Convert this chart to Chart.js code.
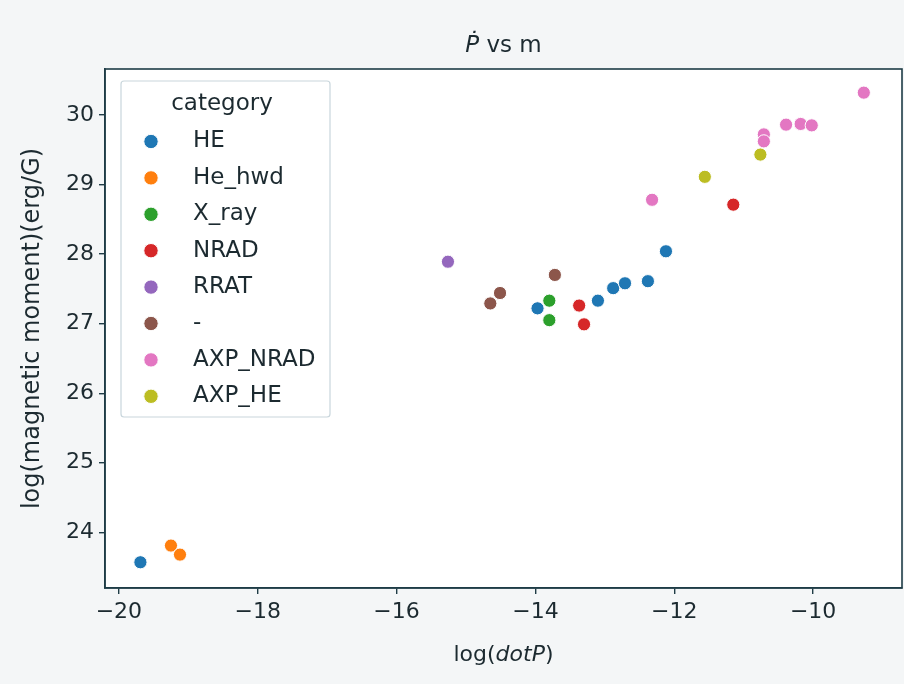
<!DOCTYPE html>
<html>
<head>
<meta charset="utf-8">
<script src="https://cdn.jsdelivr.net/npm/chart.js@4.4.1/dist/chart.umd.min.js"></script>
<style>
  html, body { margin: 0; padding: 0; background: #f4f6f7; overflow: hidden; }
  canvas { display: block; }
</style>
</head>
<body>
<canvas id="chart" width="904" height="684"></canvas>
<script>
/* ---------- data ---------- */
const categories = ["HE", "He_hwd", "X_ray", "NRAD", "RRAT", "-", "AXP_NRAD", "AXP_HE"];

const heX = [-19.69, -13.97, -13.10, -12.88, -12.71, -12.38, -12.12];
const heY = [23.57, 27.22, 27.33, 27.51, 27.58, 27.61, 28.04];

const hwdX = [-19.25, -19.12];
const hwdY = [23.81, 23.68];

const xrayX = [-13.80, -13.80];
const xrayY = [27.33, 27.05];

const nradX = [-13.37, -13.30, -11.15];
const nradY = [27.26, 26.99, 28.71];

const rratX = [-15.26];
const rratY = [27.89];

const dashX = [-14.65, -14.51, -13.72];
const dashY = [27.29, 27.44, 27.70];

const axpNradX = [-12.32, -10.71, -10.71, -10.39, -10.18, -10.02, -9.27];
const axpNradY = [28.78, 29.72, 29.62, 29.86, 29.87, 29.85, 30.32];

const axpHeX = [-11.56, -10.76];
const axpHeY = [29.11, 29.43];

const xTicks = [-20, -18, -16, -14, -12, -10];
const yTicks = [24, 25, 26, 27, 28, 29, 30];

const seriesX = [heX, hwdX, xrayX, nradX, rratX, dashX, axpNradX, axpHeX];
const seriesY = [heY, hwdY, xrayY, nradY, rratY, dashY, axpNradY, axpHeY];

/* ---------- style ---------- */
const palette = ["#1f77b4", "#ff7f0e", "#2ca02c", "#d62728",
                 "#9467bd", "#8c564b", "#e377c2", "#bcbd22"];
const FONT = "DejaVu Sans";
const INK = "#1c2a30";
const FRAME = "#1f3c46";

const datasets = categories.map((name, i) => ({
  label: name,
  data: seriesX[i].map((x, j) => ({ x: x, y: seriesY[i][j] })),
  backgroundColor: palette[i],
  borderColor: "#ffffff",
  borderWidth: 1,
  pointRadius: 6.6,
  pointHoverRadius: 6.6
}));

/* custom decorations: plot bg, frame, title, axis labels, legend */
const decor = {
  id: "decor",
  beforeDraw(chart) {
    const { ctx, chartArea: a } = chart;
    ctx.save();
    ctx.fillStyle = "#ffffff";
    ctx.fillRect(a.left, a.top, a.right - a.left, a.bottom - a.top);
    ctx.restore();
  },
  afterDraw(chart) {
    const { ctx, chartArea: a } = chart;
    ctx.save();

    // frame
    ctx.strokeStyle = FRAME;
    ctx.lineWidth = 1.6;
    ctx.strokeRect(a.left, a.top, a.right - a.left, a.bottom - a.top);

    ctx.fillStyle = INK;
    ctx.textBaseline = "middle";

    // title:  P-dot vs m
    const cx = (a.left + a.right) / 2;
    ctx.font = "italic 23px '" + FONT + "'";
    const w1 = ctx.measureText("\u1E56").width;
    ctx.font = "23px '" + FONT + "'";
    const w2 = ctx.measureText(" vs m").width;
    let tx = cx - (w1 + w2) / 2;
    ctx.textAlign = "left";
    ctx.font = "italic 23px '" + FONT + "'";
    ctx.fillText("\u1E56", tx, 46);
    ctx.font = "23px '" + FONT + "'";
    ctx.fillText(" vs m", tx + w1, 46);

    // x label: log(dotP) with italic dotP
    const parts = [["log(", ""], ["dotP", "italic "], [")", ""]];
    let total = 0;
    parts.forEach(p => { ctx.font = p[1] + "22px '" + FONT + "'"; total += ctx.measureText(p[0]).width; });
    tx = cx - total / 2;
    parts.forEach(p => {
      ctx.font = p[1] + "22px '" + FONT + "'";
      ctx.fillText(p[0], tx, 655);
      tx += ctx.measureText(p[0]).width;
    });

    // y label
    ctx.save();
    ctx.translate(33, (a.top + a.bottom) / 2);
    ctx.rotate(-Math.PI / 2);
    ctx.textAlign = "center";
    ctx.font = "24px '" + FONT + "'";
    ctx.fillText("log(magnetic moment)(erg/G)", 0, 0);
    ctx.restore();

    // legend
    const lx = 121, ly = 81, lw = 209, lh = 336;
    ctx.fillStyle = "rgba(255,255,255,0.8)";
    ctx.strokeStyle = "#c9d6dc";
    ctx.lineWidth = 1.2;
    ctx.beginPath();
    ctx.roundRect(lx, ly, lw, lh, 3);
    ctx.fill();
    ctx.stroke();

    ctx.fillStyle = INK;
    ctx.font = "23px '" + FONT + "'";
    ctx.textAlign = "center";
    ctx.fillText("category", 222, 104);
    ctx.textAlign = "left";
    chart.data.datasets.forEach((ds, i) => {
      const y = 141.5 + i * 36.4;
      ctx.beginPath();
      ctx.arc(151, y, 7.2, 0, Math.PI * 2);
      ctx.fillStyle = ds.backgroundColor;
      ctx.fill();
      ctx.strokeStyle = "#ffffff";
      ctx.lineWidth = 1;
      ctx.stroke();
      ctx.fillStyle = INK;
      ctx.fillText(ds.label, 193, y);
    });

    ctx.restore();
  }
};

new Chart(document.getElementById("chart"), {
  type: "scatter",
  data: { datasets: datasets },
  options: {
    responsive: false,
    animation: false,
    layout: { autoPadding: false, padding: { top: 69, right: 2, left: 0, bottom: 0 } },
    plugins: {
      legend: { display: false },
      title: { display: false },
      tooltip: { enabled: false }
    },
    scales: {
      x: {
        type: "linear",
        min: -20.2,
        max: -8.72,
        afterBuildTicks: s => { s.ticks = xTicks.map(v => ({ value: v })); },
        afterFit: s => { s.height = 96; s.paddingLeft = 0; s.paddingRight = 0; },
        grid: { drawOnChartArea: false, drawTicks: true, tickLength: 6, color: FRAME, lineWidth: 1.4 },
        border: { display: true, color: FRAME, width: 1.6 },
        ticks: {
          padding: 5,
          color: INK,
          font: { family: FONT, size: 22 },
          maxRotation: 0,
          callback: v => (v < 0 ? "\u2212" + Math.abs(v) : String(v))
        }
      },
      y: {
        type: "linear",
        min: 23.2,
        max: 30.66,
        afterBuildTicks: s => { s.ticks = yTicks.map(v => ({ value: v })); },
        afterFit: s => { s.width = 105; s.paddingTop = 0; s.paddingBottom = 0; },
        grid: { drawOnChartArea: false, drawTicks: true, tickLength: 6, color: FRAME, lineWidth: 1.4 },
        border: { display: true, color: FRAME, width: 1.6 },
        ticks: {
          padding: 5,
          color: INK,
          font: { family: FONT, size: 22 }
        }
      }
    }
  },
  plugins: [decor]
});
</script>
</body>
</html>
